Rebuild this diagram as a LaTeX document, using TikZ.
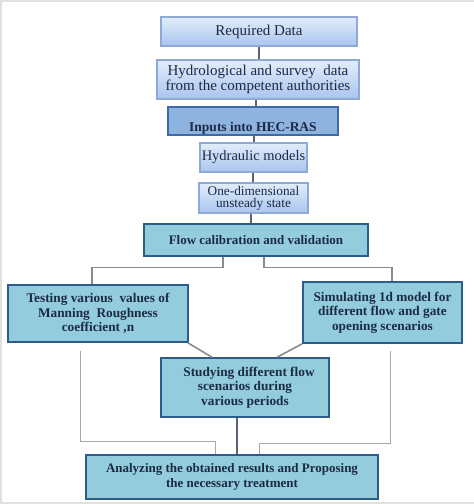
\documentclass[tikz,border=0pt]{standalone}
\usepackage{fontspec}
\setmainfont{Liberation Serif}
\usetikzlibrary{calc}
\definecolor{txt}{HTML}{1C2A44}
\definecolor{topA}{HTML}{E2EDFB}
\definecolor{topB}{HTML}{A9C5EE}
\definecolor{topline}{HTML}{8EA9D6}
\definecolor{hecfill}{HTML}{8FB3DF}
\definecolor{hecline}{HTML}{3E6AA8}
\definecolor{teal}{HTML}{93CDDD}
\definecolor{tealline}{HTML}{2E5C8A}
\definecolor{conn}{HTML}{5A6470}
\definecolor{conn2}{HTML}{8A8A8A}
\definecolor{conn3}{HTML}{A8A8A8}
\tikzset{
  topbox/.style={draw=topline, line width=1.2pt, top color=topA, bottom color=topB,
    inner sep=0pt, align=center, font=\fontsize{15}{14.5}\selectfont, text=txt},
  hecbox/.style={draw=hecline, line width=1.4pt, fill=hecfill,
    inner sep=0pt, align=center, font=\bfseries\fontsize{13.5}{14}\selectfont, text=txt},
  lowbox/.style={draw=tealline, line width=1.5pt, fill=teal,
    inner sep=0pt, align=center, font=\bfseries\fontsize{13.3}{14.3}\selectfont, text=txt},
  topconn/.style={draw=conn, line width=1.4pt},
  midconn/.style={draw=conn2, line width=1.2pt},
  sideconn/.style={draw=conn3, line width=1pt},
}
\begin{document}
\begin{tikzpicture}[x=1pt,y=-1pt]
\useasboundingbox (0,0) rectangle (474,504);
\fill[white] (0,0) rectangle (474,504);
\draw[draw=black!12, line width=2pt] (474,1) -- (1,1) -- (1,503) -- (474,503);

\node[topbox, minimum width=196pt, minimum height=29pt] (req) at (259,31.5) {Required Data};
\node[topbox, minimum width=202pt, minimum height=39pt] (hyd) at (258,79.5) {Hydrological and survey\ \ data\\from the competent authorities};
\node[hecbox, minimum width=170pt, minimum height=28pt] (hec) at (253,121) {\smash{\raisebox{-10pt}{Inputs into HEC-RAS}}};
\node[topbox, minimum width=107pt, minimum height=29pt, font=\fontsize{14.5}{14}\selectfont] (hm) at (253.5,157.5) {Hydraulic models};
\node[topbox, minimum width=109pt, minimum height=30pt, font=\fontsize{13.3}{12}\selectfont] (one) at (253.5,198) {One-dimensional\\unsteady state};
\node[lowbox, minimum width=224pt, minimum height=32pt, font=\bfseries\fontsize{13}{14}\selectfont] (flow) at (256,240) {Flow calibration and validation};
\node[lowbox, minimum width=180pt, minimum height=57pt] (test) at (98,313.5) {Testing various\ \ values of\\Manning\ \ Roughness\\coefficient ,n};
\node[lowbox, minimum width=159pt, minimum height=61pt] (sim) at (382.5,312.5) {Simulating 1d model for\\different flow and gate\\opening scenarios};
\node[lowbox, minimum width=168pt, minimum height=59pt] (study) at (245,387.5) {\hspace*{8pt}Studying different flow\\scenarios during\\various periods};
\node[lowbox, minimum width=292pt, minimum height=44pt, font=\bfseries\fontsize{13}{14.5}\selectfont] (anal) at (232,477) {Analyzing the obtained results and Proposing\\the necessary treatment};

\draw[topconn] (req.south) -- (req.south |- hyd.north);
\draw[topconn] ([xshift=-2pt]hyd.south) -- ([xshift=-2pt]hyd.south |- hec.north);
\draw[topconn] ([xshift=1pt]hec.south) -- ([xshift=1pt]hec.south |- hm.north);
\draw[topconn] ([xshift=-0.5pt]hm.south) -- ([xshift=-0.5pt]hm.south |- one.north);
\draw[topconn] ([xshift=-2.5pt]one.south) -- ([xshift=-2.5pt]one.south |- flow.north);

\draw[midconn] ([xshift=-33pt]flow.south) -- ++(0,11) -| ([xshift=-6pt]test.north);
\draw[midconn] ([xshift=8pt]flow.south) -- ++(0,11) -| ([xshift=9.5pt]sim.north);

\draw[midconn, line width=1.6pt] ([xshift=-1pt]test.south east) -- ([xshift=-33pt]study.north);
\draw[midconn, line width=1.6pt] (sim.south west) -- ([xshift=32pt]study.north);
\draw[midconn, line width=1.6pt, draw=conn] ([xshift=-8pt]study.south) -- ([xshift=-8pt]study.south |- anal.north);

\draw[sideconn, shorten <=8pt] ([xshift=-18pt]test.south) -- ++(0,99) -| ([xshift=-17pt]anal.north);
\draw[sideconn, shorten <=7pt] ([xshift=7.5pt]sim.south) -- ++(0,100) -| ([xshift=27pt]anal.north);
\end{tikzpicture}
\end{document}
